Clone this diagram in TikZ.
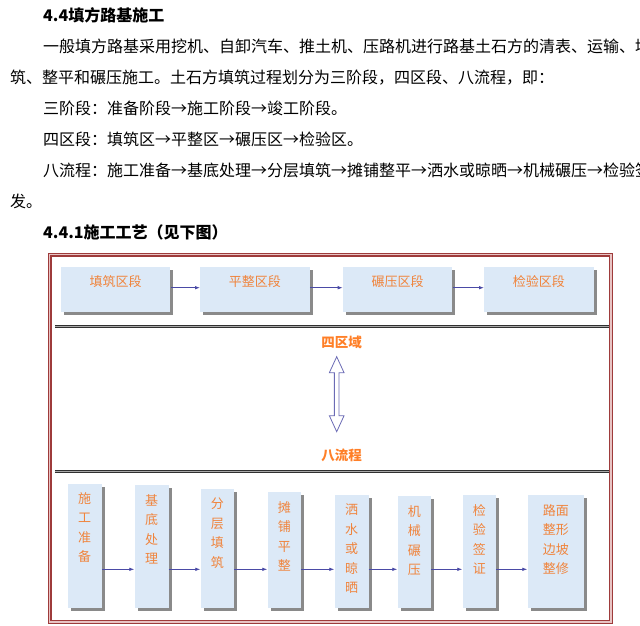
\documentclass[tikz,border=0pt]{standalone}
\usepackage{fontspec}
\setmainfont{Noto Sans CJK SC}
\usepackage{xcolor}
\usepackage{tikz}
\usetikzlibrary{calc,arrows.meta,shadows}
\definecolor{framedark}{HTML}{9E3B3B}
\definecolor{framepink}{HTML}{E8C4C4}
\definecolor{boxblue}{HTML}{DCE9F7}
\definecolor{shade}{HTML}{8A8A8A}
\definecolor{orng}{HTML}{F0843C}
\definecolor{orngb}{HTML}{FF7F27}
\definecolor{lineblue}{HTML}{4A4AA6}
\definecolor{hollowblue}{HTML}{6B6BB5}
\definecolor{ruledark}{HTML}{303030}
\definecolor{rulelight}{HTML}{A8A8A8}
\newcommand{\ar}{\makebox[16pt]{→}}
\tikzset{
  para/.style={anchor=west, inner sep=0pt, font=\fontsize{16}{16}\selectfont},
  stage/.style={fill=boxblue, inner sep=0pt, anchor=north west,
    minimum width=109.5pt, minimum height=45pt,
    drop shadow={shadow xshift=3pt, shadow yshift=-3pt, fill=shade, opacity=1}},
  col/.style={fill=boxblue, inner sep=0pt, anchor=north west,
    drop shadow={shadow xshift=3pt, shadow yshift=-3pt, fill=shade, opacity=1}},
  lab/.style={text=orng, inner sep=0pt, align=center, font=\fontsize{13}{19.5}\selectfont},
  hdr/.style={text=orngb, inner sep=0pt, font=\fontsize{13.5}{16}\selectfont\bfseries},
  flow/.style={draw=lineblue, line width=0.8pt, -{Latex[length=5pt,width=3.6pt]}},
  hollow/.style={draw=hollowblue, fill=white, line width=0.8pt, line join=miter},
}

\begin{document}
\begin{tikzpicture}[x=1pt,y=-1pt]
  \useasboundingbox (0,0) rectangle (640,626);
  \clip (0,0) rectangle (640,626);

  % text above the chart
  \node[para] (h1) at (43,15.5) {\bfseries 4.4填方路基施工};
  \node[para] (p1) at (43,46.5) {一般填方路基采用挖机、自卸汽车、推土机、压路机进行路基土石方的清表、运输、填筑};
  \node[para] (p2) at (10,78) {筑、整平和碾压施工。土石方填筑过程划分为三阶段，四区段、八流程，即：};
  \node[para] (p3) at (43,108.5) {三阶段：准备阶段\ar 施工阶段\ar 竣工阶段。};
  \node[para] (p4) at (43,139) {四区段：填筑区\ar 平整区\ar 碾压区\ar 检验区。};
  \node[para] (p5) at (43,170) {八流程：施工准备\ar 基底处理\ar 分层填筑\ar 摊铺整平\ar 洒水或晾晒\ar 机械碾压\ar 检验签证};
  \node[para] (p6) at (10,201.5) {发。};
  \node[para] (h2) at (43,232.5) {\bfseries 4.4.1施工工艺（见下图）};

  % frame
  \draw[framedark, line width=3.8pt] (49.65,254.65) rectangle (611,622);
  \draw[framepink, line width=1.6pt] (49.65,254.65) rectangle (611,622);

  % four zones
  \coordinate (ty) at (0,287.7);
  \foreach \n/\x/\txt in {1/60.7/填筑区段,2/200/平整区段,3/342.7/碾压区段,4/484/检验区段}{
    \node[stage] (s\n) at (\x,266.7) {};
    \node[lab] (s\n t) at ([yshift=-15pt]s\n.north) {\txt};
  }
  \foreach \a/\b in {1/2,2/3,3/4}
    \draw[flow] (s\a.east |- ty) -- (s\b.west |- ty);

  % double rules
  \foreach \y in {326.8,471}{
    \draw[ruledark, line width=3pt] (55,\y) -- (609,\y);
    \draw[rulelight, line width=1pt] (55,\y) -- (609,\y);
  }

  \node[hdr] (zone) at (341.7,342.7) {四区域};
  \node[hdr] (eight) at (341.7,455) {八流程};
  \coordinate (aT) at (336.7,356.7);
  \coordinate (aB) at (336.7,431.7);
  \draw[hollow] (aT) -- ++(7.35,16) -- ++(-5,0) -- ($(aB)+(2.35,-16)$) -- ++(5,0)
    -- (aB) -- ++(-7.35,-16) -- ++(5,0) -- ($(aT)+(-2.35,16)$) -- ++(-5,0) -- cycle;

  % eight steps
  \coordinate (ay) at (0,569.3);
  \foreach \n/\x/\w/\tp/\txt in {1/67.3/34.4/483.3/{施\\工\\准\\备},
      2/134.3/34/485/{基\\底\\处\\理},
      3/200.3/33.7/489/{分\\层\\填\\筑},
      4/267.3/33.7/492/{摊\\铺\\平\\整},
      5/334.3/34/495/{洒\\水\\或\\晾\\晒},
      6/397.3/33.7/496/{机\\械\\碾\\压},
      7/462.3/33.7/495/{检\\验\\签\\证},
      8/527.3/56.7/495/{路面\\整形\\边坡\\整修}}{
    \node[col, minimum width=\w, minimum height=607.3-\tp] (c\n) at (\x,\tp) {};
    \node[lab, anchor=north] (c\n t) at ([yshift=-9pt]c\n.north) {\txt};
  }
  \foreach \a/\b in {1/2,2/3,3/4,4/5,5/6,6/7,7/8}
    \draw[flow] (c\a.east |- ay) -- (c\b.west |- ay);
\end{tikzpicture}
\end{document}
